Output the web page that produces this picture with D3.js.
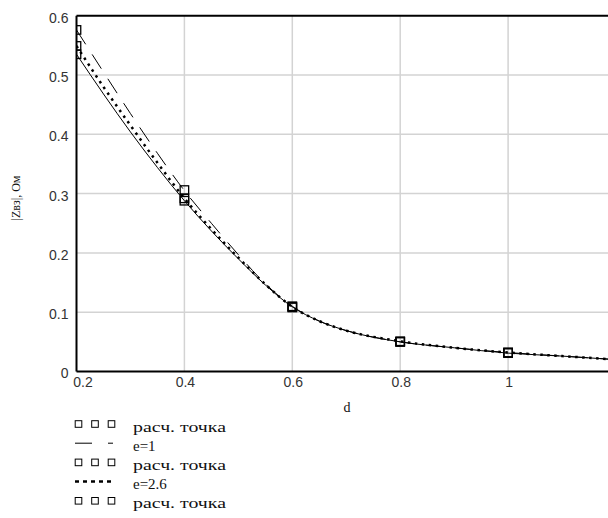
<!DOCTYPE html>
<html>
<head>
<meta charset="utf-8">
<script src="https://cdn.jsdelivr.net/npm/d3@7"></script>
<style>
  html, body { margin: 0; padding: 0; background: #fff; }
  svg { display: block; }
</style>
</head>
<body>
<svg id="chart" width="608" height="518"></svg>
<script>
// Distance d and modulus |Zвз| for three values of e
const dValues = [0.2, 0.25, 0.3, 0.35, 0.4, 0.45, 0.5, 0.55, 0.6, 0.65, 0.7, 0.8, 0.9, 1.0, 1.1, 1.2];
const zE1   = [0.576, 0.505, 0.435, 0.368, 0.305, 0.250, 0.197, 0.148, 0.110, 0.085, 0.069, 0.050, 0.040, 0.032, 0.026, 0.020];
const zE26  = [0.549, 0.480, 0.415, 0.352, 0.292, 0.240, 0.192, 0.147, 0.109, 0.085, 0.069, 0.051, 0.040, 0.032, 0.026, 0.020];
const zE6   = [0.535, 0.468, 0.404, 0.344, 0.288, 0.237, 0.190, 0.146, 0.109, 0.085, 0.069, 0.050, 0.040, 0.031, 0.026, 0.020];

// Calculated points
const pointD   = [0.2, 0.4, 0.6, 0.8, 1.0];
const pointE1  = [0.576, 0.306, 0.110, 0.051, 0.032];
const pointE26 = [0.549, 0.292, 0.109, 0.050, 0.032];
const pointE6  = [0.535, 0.288, 0.108, 0.050, 0.031];

const xTicks = [0.2, 0.4, 0.6, 0.8, 1.0];
const xTickLabels = ["0.2", "0.4", "0.6", "0.8", "1"];
const yTicks = [0, 0.1, 0.2, 0.3, 0.4, 0.5, 0.6];
const yTickLabels = ["0", "0.1", "0.2", "0.3", "0.4", "0.5", "0.6"];

const legendLabels = ["расч. точка", "e=1", "расч. точка", "e=2.6", "расч. точка", "e=6"];

const svg = d3.select("#chart");
const plotL = 76.5, plotR = 616, plotT = 15.7, plotB = 371.5;

const x = d3.scaleLinear().domain([0.2, 1.2]).range([plotL, plotR]);
const y = d3.scaleLinear().domain([0, 0.6]).range([plotB, plotT]);

svg.append("defs").append("clipPath").attr("id", "plotClip")
  .append("rect").attr("x", plotL).attr("y", plotT - 2).attr("width", plotR - plotL).attr("height", plotB - plotT + 2);

// grid
const grid = svg.append("g");
grid.selectAll("line.v").data(xTicks.slice(1)).join("line")
  .attr("x1", d => x(d)).attr("x2", d => x(d)).attr("y1", plotT).attr("y2", plotB)
  .attr("stroke", "#d3d3d3").attr("stroke-width", 1.5);
grid.selectAll("line.h").data(yTicks.slice(1, -1)).join("line")
  .attr("x1", plotL).attr("x2", plotR).attr("y1", d => y(d)).attr("y2", d => y(d))
  .attr("stroke", "#d3d3d3").attr("stroke-width", 1.5);

// curves
const plot = svg.append("g").attr("clip-path", "url(#plotClip)");
const line = d3.line().x(d => x(d[0])).y(d => y(d[1])).curve(d3.curveMonotoneX);

plot.append("path").datum(dValues.map((d, i) => [d, zE6[i]]))
  .attr("d", line).attr("fill", "none").attr("stroke", "#000").attr("stroke-width", 1);
plot.append("path").datum(dValues.map((d, i) => [d, zE1[i]]))
  .attr("d", line).attr("fill", "none").attr("stroke", "#000").attr("stroke-width", 1)
  .attr("stroke-dasharray", "17,12");
plot.append("path").datum(dValues.map((d, i) => [d, zE26[i]]))
  .attr("d", line).attr("fill", "none").attr("stroke", "#000").attr("stroke-width", 2.5)
  .attr("stroke-dasharray", "2.5,4.5");

// calculated points
const sq = 8.5;
[pointE1, pointE26, pointE6].forEach(vals => {
  plot.append("g").selectAll("rect").data(pointD.map((d, i) => [d, vals[i]])).join("rect")
    .attr("x", d => x(d[0]) - sq / 2).attr("y", d => y(d[1]) - sq / 2)
    .attr("width", sq).attr("height", sq)
    .attr("fill", "none").attr("stroke", "#000").attr("stroke-width", 1.3);
});

// frame
svg.append("line").attr("x1", plotL).attr("x2", 608).attr("y1", plotT).attr("y2", plotT)
  .attr("stroke", "#000").attr("stroke-width", 2);
svg.append("line").attr("x1", plotL).attr("x2", 608).attr("y1", plotB).attr("y2", plotB)
  .attr("stroke", "#000").attr("stroke-width", 2);
svg.append("line").attr("x1", plotL).attr("x2", plotL).attr("y1", plotT).attr("y2", plotB)
  .attr("stroke", "#000").attr("stroke-width", 2);

// tick labels
const tickFont = "'Liberation Sans', Arial, sans-serif";
svg.append("g").selectAll("text").data(yTicks).join("text")
  .attr("x", 68.5).attr("y", (d, i) => i === 0 ? 378 : y(d) + 7)
  .attr("text-anchor", "end").attr("font-family", tickFont).attr("font-size", 14)
  .attr("fill", "#333").text((d, i) => yTickLabels[i]);
svg.append("g").selectAll("text").data(xTicks).join("text")
  .attr("x", (d, i) => i === 0 ? 83 : x(d) + 1).attr("y", 387)
  .attr("text-anchor", "middle").attr("font-family", tickFont).attr("font-size", 14)
  .attr("fill", "#333").text((d, i) => xTickLabels[i]);

// axis titles
const serif = "'Liberation Serif', 'Times New Roman', serif";
svg.append("text").attr("x", 347).attr("y", 412).attr("text-anchor", "middle")
  .attr("font-family", serif).attr("font-size", 14).attr("fill", "#111").text("d");
svg.append("text").attr("transform", "translate(20,198) rotate(-90)")
  .attr("text-anchor", "middle").attr("font-family", serif).attr("font-size", 12)
  .attr("fill", "#111").text("|Zвз|, Ом");

// legend
const legend = svg.append("g");
legendLabels.forEach((label, i) => {
  const base = 431.5 + i * 19.2;
  const cy = base - 7.5;
  const row = legend.append("g");
  if (i % 2 === 0) {
    [78.5, 95, 111.5].forEach(cx => {
      row.append("rect").attr("x", cx - 3.3).attr("y", cy - 3.3).attr("width", 6.6).attr("height", 6.6)
        .attr("fill", "none").attr("stroke", "#000").attr("stroke-width", 1);
    });
  } else if (i === 1) {
    row.append("line").attr("x1", 75).attr("x2", 115).attr("y1", cy).attr("y2", cy)
      .attr("stroke", "#000").attr("stroke-width", 1).attr("stroke-dasharray", "17,16,5,2");
  } else if (i === 3) {
    row.append("line").attr("x1", 75).attr("x2", 111).attr("y1", cy).attr("y2", cy)
      .attr("stroke", "#000").attr("stroke-width", 2.5).attr("stroke-dasharray", "4,4");
  } else {
    row.append("line").attr("x1", 75).attr("x2", 115).attr("y1", cy).attr("y2", cy)
      .attr("stroke", "#000").attr("stroke-width", 1);
  }
  const t = row.append("text").attr("x", 133).attr("y", base)
    .attr("font-family", serif).attr("font-size", 15).attr("fill", "#111").text(label);
  if (i % 2 === 0) t.attr("textLength", 93).attr("lengthAdjust", "spacingAndGlyphs");
});
</script>
</body>
</html>
